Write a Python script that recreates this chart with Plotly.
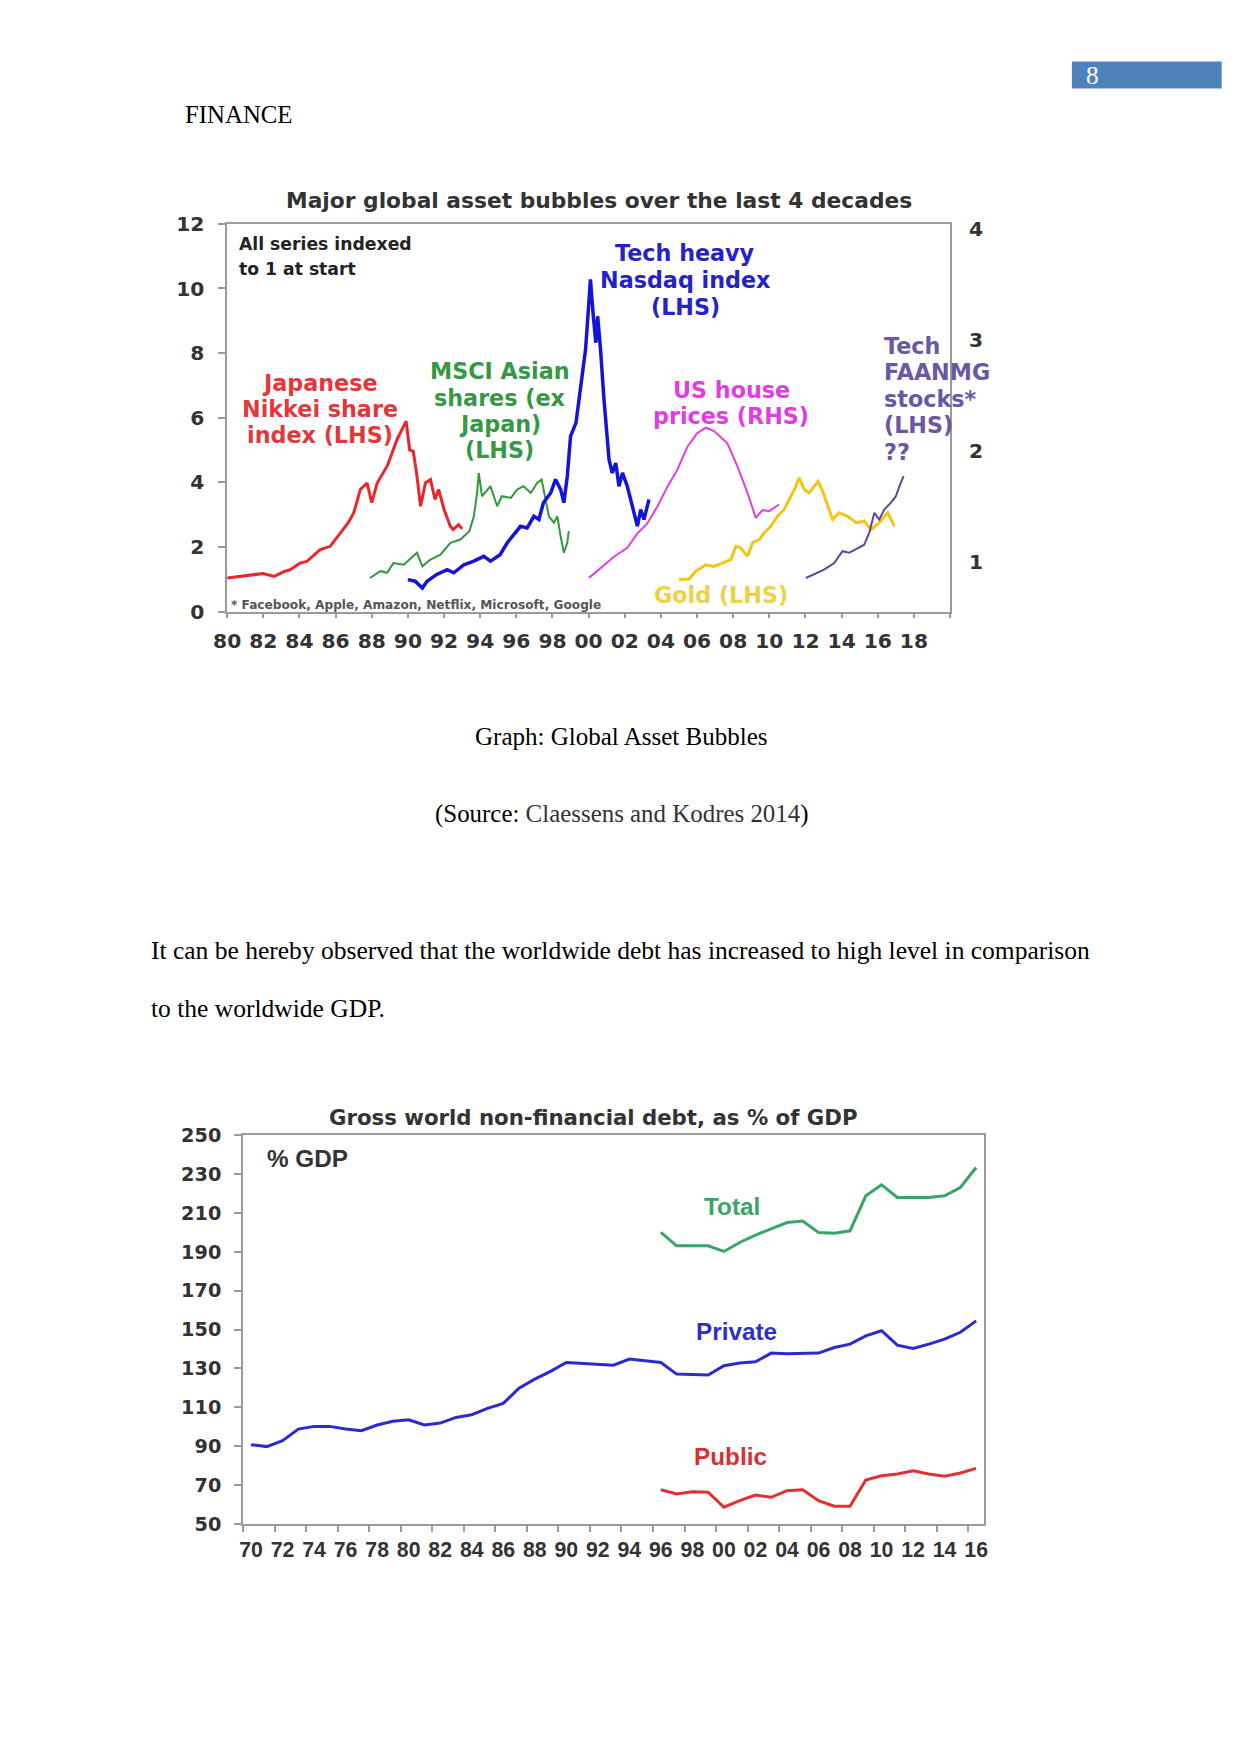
import plotly.graph_objects as go

# ---------------- DATA: chart 1 (Major global asset bubbles) ----------------
nikkei_years = [1980.0, 1980.6, 1981.5, 1982.0, 1982.6, 1983.2, 1983.5, 1984.04, 1984.4, 1984.8, 1985.15,
                1985.7, 1986.26, 1986.7, 1987.0, 1987.37, 1987.74, 1988.0, 1988.3, 1988.85, 1989.4,
                1989.9, 1990.1, 1990.3, 1990.5, 1990.7, 1990.97, 1991.25, 1991.5, 1991.7, 1992.0,
                1992.35, 1992.5, 1992.8, 1993.0]
nikkei_vals = [1.04, 1.08, 1.15, 1.18, 1.09, 1.25, 1.3, 1.5, 1.55, 1.75, 1.92,
               2.02, 2.44, 2.75, 3.05, 3.78, 3.98, 3.37, 3.98, 4.5, 5.33,
               5.89, 5.0, 4.96, 4.2, 3.26, 3.98, 4.09, 3.47, 3.78, 3.16,
               2.64, 2.54, 2.69, 2.56]

asia_years = [1987.9, 1988.48, 1988.85, 1989.2, 1989.77, 1990.3, 1990.5, 1990.8, 1991.25, 1991.8,
              1992.35, 1992.9, 1993.4, 1993.65, 1993.83, 1993.92, 1994.1, 1994.57, 1994.94, 1995.2,
              1995.7, 1996.05, 1996.4, 1996.8, 1997.15, 1997.4, 1997.6, 1997.8, 1998.08, 1998.27,
              1998.45, 1998.63, 1998.82, 1998.9]
asia_vals = [1.04, 1.25, 1.2, 1.5, 1.45, 1.71, 1.82, 1.4, 1.61, 1.76,
             2.13, 2.23, 2.49, 2.95, 3.67, 4.29, 3.57, 3.88, 3.26, 3.57,
             3.52, 3.78, 3.88, 3.67, 3.98, 4.09, 3.57, 2.95, 2.75, 2.95,
             2.33, 1.82, 2.13, 2.49]

nasdaq_years = [1990.0, 1990.4, 1990.8, 1991.06, 1991.6, 1992.17, 1992.54, 1993.1, 1993.65, 1994.2,
                1994.57, 1995.1, 1995.5, 1995.86, 1996.23, 1996.6, 1996.97, 1997.25, 1997.5, 1997.9,
                1998.17, 1998.45, 1998.63, 1998.82, 1999.0, 1999.3, 1999.56, 1999.83, 1999.96, 2000.1,
                2000.26, 2000.4, 2000.5, 2000.66, 2000.85, 2001.13, 2001.31, 2001.5, 2001.68, 2001.87,
                2002.14, 2002.42, 2002.7, 2002.88, 2003.06, 2003.34]
nasdaq_vals = [0.99, 0.94, 0.73, 0.94, 1.15, 1.3, 1.2, 1.45, 1.56, 1.71,
               1.56, 1.76, 2.13, 2.38, 2.64, 2.59, 2.95, 2.85, 3.37, 3.67,
               4.09, 3.78, 3.37, 4.19, 5.43, 5.84, 6.87, 8.11, 9.14, 10.28,
               9.14, 8.32, 9.14, 8.11, 6.56, 4.7, 4.29, 4.6, 3.88, 4.29,
               3.88, 3.26, 2.64, 3.16, 2.85, 3.47]

house_years = [2000.02, 2000.66, 2001.4, 2002.14, 2002.7, 2003.25, 2003.8, 2004.36, 2004.9, 2005.47,
               2006.0, 2006.48, 2006.94, 2007.68, 2008.24, 2008.8, 2009.25, 2009.62, 2009.99, 2010.54]
house_vals = [0.86, 0.95, 1.05, 1.13, 1.26, 1.35, 1.50, 1.68, 1.83, 2.04,
              2.16, 2.21, 2.18, 2.07, 1.86, 1.62, 1.40, 1.47, 1.46, 1.52]

gold_years = [2005.0, 2005.56, 2005.93, 2006.48, 2006.94, 2007.4, 2007.87, 2008.14, 2008.42, 2008.8,
              2009.07, 2009.44, 2009.72, 2010.08, 2010.45, 2010.82, 2011.19, 2011.47, 2011.65, 2011.93,
              2012.2, 2012.48, 2012.7, 2012.95, 2013.31, 2013.5, 2013.87, 2014.33, 2014.8, 2015.25,
              2015.63, 2016.08, 2016.55, 2016.92]
gold_vals = [0.99, 1.01, 1.25, 1.45, 1.4, 1.5, 1.61, 2.02, 1.97, 1.71,
             2.13, 2.23, 2.44, 2.64, 2.95, 3.16, 3.57, 3.88, 4.14, 3.78,
             3.67, 3.88, 4.03, 3.72, 3.16, 2.85, 3.06, 2.95, 2.75, 2.8,
             2.54, 2.75, 3.06, 2.64]

faang_years = [2012.02, 2012.48, 2013.03, 2013.59, 2014.05, 2014.42, 2014.89, 2015.25, 2015.53, 2015.81,
               2016.08, 2016.36, 2016.73, 2017.0, 2017.2, 2017.43]
faang_vals = [1.04, 1.15, 1.3, 1.5, 1.87, 1.82, 1.97, 2.07, 2.44, 3.06,
              2.85, 3.16, 3.37, 3.57, 3.88, 4.19]

c1_xticks = list(range(1980, 2021, 2))
c1_xlabels = ["80", "82", "84", "86", "88", "90", "92", "94", "96", "98", "00", "02", "04", "06",
              "08", "10", "12", "14", "16", "18", ""]
c1_yticks = [0, 2, 4, 6, 8, 10, 12]
c1_rticks = [1, 2, 3, 4]

# ---------------- DATA: chart 2 (Gross world non-financial debt) ----------------
private_years = list(range(1970, 2017))
private_vals = [90.8, 89.8, 92.8, 98.8, 100.2, 100.2, 98.8, 98.0, 100.9, 102.8,
                103.6, 100.9, 101.9, 104.8, 106.2, 109.5, 112.0, 119.8, 124.5, 128.5,
                133.1, 132.6, 132.3, 131.7, 134.8, 133.9, 133.1, 127.1, 126.8, 126.6,
                131.4, 132.8, 133.4, 137.9, 137.6, 137.9, 137.9, 140.8, 142.5, 146.8,
                149.4, 142.0, 140.3, 142.5, 145.1, 148.6, 154.5]
total_years = list(range(1996, 2017))
total_vals = [200.0, 193.1, 193.1, 193.1, 190.2, 194.8, 198.6, 202.0, 205.1, 205.9,
              200.0, 199.6, 200.8, 218.8, 224.5, 218.0, 218.0, 218.0, 218.8, 223.1, 233.4]
public_years = list(range(1996, 2017))
public_vals = [67.6, 65.4, 66.6, 66.3, 58.6, 62.0, 64.9, 63.7, 67.1, 67.6,
               62.0, 59.1, 59.1, 72.6, 74.8, 75.7, 77.4, 75.7, 74.5, 76.2, 78.6]

c2_xlabel_years = list(range(1970, 2017, 2))
c2_xlabels = ["%02d" % (y % 100) for y in c2_xlabel_years]
c2_boundary_ticks = [y - 0.5 for y in c2_xlabel_years]
c2_yticks = list(range(50, 251, 20))

# ---------------- LAYOUT ----------------
W, H = 1241, 1754
# the captured page is slightly offset/scaled relative to the figure; compensate
OX, OY, S = 11.5, 12.0, 0.987


def px(x):
    return ((x - OX) / S) / W


def py(y):
    return 1 - ((y - OY) / S) / H


def fs(size):
    return size / S


DV = "DejaVu Sans"
LS = "Liberation Sans, Arial"
SERIF = "Liberation Serif, Times New Roman"
AXC = "#9a9a9a"
TXT = "#333333"

fig = go.Figure()

# chart 1 series
fig.add_trace(go.Scatter(x=nikkei_years, y=nikkei_vals, mode="lines",
                         line=dict(color="#e8262b", width=3), xaxis="x", yaxis="y"))
fig.add_trace(go.Scatter(x=asia_years, y=asia_vals, mode="lines",
                         line=dict(color="#2f9a3a", width=2), xaxis="x", yaxis="y"))
fig.add_trace(go.Scatter(x=nasdaq_years, y=nasdaq_vals, mode="lines",
                         line=dict(color="#1414d8", width=3.5), xaxis="x", yaxis="y"))
fig.add_trace(go.Scatter(x=gold_years, y=gold_vals, mode="lines",
                         line=dict(color="#f4c416", width=3), xaxis="x", yaxis="y"))
fig.add_trace(go.Scatter(x=faang_years, y=faang_vals, mode="lines",
                         line=dict(color="#5a4896", width=2), xaxis="x", yaxis="y"))
fig.add_trace(go.Scatter(x=house_years, y=house_vals, mode="lines",
                         line=dict(color="#e040e0", width=2), xaxis="x", yaxis="y2"))

# chart 2 series
fig.add_trace(go.Scatter(x=total_years, y=total_vals, mode="lines",
                         line=dict(color="#3aa36a", width=3), xaxis="x2", yaxis="y3"))
fig.add_trace(go.Scatter(x=private_years, y=private_vals, mode="lines",
                         line=dict(color="#2a2ad0", width=3), xaxis="x2", yaxis="y3"))
fig.add_trace(go.Scatter(x=public_years, y=public_vals, mode="lines",
                         line=dict(color="#e03030", width=3), xaxis="x2", yaxis="y3"))

fig.update_layout(
    width=W, height=H, margin=dict(l=0, r=0, t=0, b=0), autosize=False,
    paper_bgcolor="white", plot_bgcolor="white", showlegend=False,
    xaxis=dict(domain=[px(225), px(949)], anchor="y", range=[1980, 2020],
               tickmode="array", tickvals=c1_xticks, ticktext=c1_xlabels,
               ticks="outside", ticklen=5, tickcolor=AXC, tickwidth=1.5,
               showline=True, linecolor=AXC, linewidth=1.5, mirror=True,
               showgrid=False, zeroline=False, ticklabelstandoff=5,
               tickfont=dict(family=DV, size=fs(20), color=TXT, weight="bold")),
    yaxis=dict(domain=[py(612), py(224)], anchor="x", range=[0, 12],
               tickmode="array", tickvals=c1_yticks,
               ticks="outside", ticklen=7, tickcolor=AXC, tickwidth=1.5,
               showline=True, linecolor=AXC, linewidth=1.5, mirror=True,
               showgrid=False, zeroline=False, ticklabelstandoff=10,
               tickfont=dict(family=DV, size=fs(20), color=TXT, weight="bold")),
    yaxis2=dict(overlaying="y", side="right", anchor="x", range=[0.557, 4.043],
                tickmode="array", tickvals=c1_rticks, ticks="",
                showline=False, showgrid=False, zeroline=False, ticklabelstandoff=18,
                tickfont=dict(family=DV, size=fs(20), color=TXT, weight="bold")),
    xaxis2=dict(domain=[px(241), px(983)], anchor="y3", range=[1969.5, 2016.5],
                tickmode="array", tickvals=c2_xlabel_years, ticktext=c2_xlabels, ticks="",
                minor=dict(tickmode="array", tickvals=c2_boundary_ticks, ticks="outside",
                           ticklen=6, tickcolor=AXC, tickwidth=1.5),
                showline=True, linecolor=AXC, linewidth=2, mirror=True,
                showgrid=False, zeroline=False, ticklabelstandoff=6,
                tickfont=dict(family=LS, size=fs(21), color=TXT, weight="bold")),
    yaxis3=dict(domain=[py(1525), py(1136)], anchor="x2", range=[50, 250],
                tickmode="array", tickvals=c2_yticks,
                ticks="outside", ticklen=7, tickcolor=AXC, tickwidth=1.5,
                showline=True, linecolor=AXC, linewidth=2, mirror=True,
                showgrid=False, zeroline=False, ticklabelstandoff=9,
                tickfont=dict(family=DV, size=fs(19), color=TXT, weight="bold")),
)


def note(text, x, y, size, color, family=DV, xanchor="center", bold=True):
    fig.add_annotation(text=("<b>%s</b>" % text) if bold else text,
                       x=px(x), y=py(y), xref="paper", yref="paper",
                       xanchor=xanchor, yanchor="middle", showarrow=False,
                       font=dict(family=family, size=fs(size), color=color))


def block(lines, x, ys, size, color, family=DV, xanchor="center"):
    for line, yy in zip(lines, ys):
        note(line, x, yy, size, color, family, xanchor)


# page header
fig.add_shape(type="rect", xref="paper", yref="paper",
              x0=px(1071), x1=px(1221), y0=py(88.5), y1=py(61.5),
              fillcolor="#4f81bd", line=dict(width=0), layer="below")
note("8", 1092, 75, 25, "white", SERIF, bold=False)
note("FINANCE", 181, 115, 24.5, "black", SERIF, xanchor="left", bold=False)

# chart 1 texts
note("Major global asset bubbles over the last 4 decades", 597, 201, 21.5, TXT)
block(["All series indexed", "to 1 at start"], 235, [244, 269], 17, "#222222", xanchor="left")
block(["Tech heavy", "Nasdaq index", "(LHS)"], 684, [253, 280, 307], 22, "#2323c8")
block(["Japanese", "Nikkei share", "index (LHS)"], 318, [383, 409, 435], 22, "#e2383c")
block(["MSCI Asian", "shares (ex", "Japan)", "(LHS)"], 498, [371, 398, 424, 450], 22, "#359844")
block(["US house", "prices (RHS)"], 730, [390, 416], 22, "#e03ee0")
block(["Tech", "FAANMG", "stocks*", "(LHS)", "??"], 881, [346, 372, 399, 425, 452], 22,
      "#6a58a6", xanchor="left")
note("Gold (LHS)", 720, 595, 22, "#ead24a")
note("* Facebook, Apple, Amazon, Netflix, Microsoft, Google", 227, 605, 12, "#555555", xanchor="left")

# captions and paragraph
note("Graph: Global Asset Bubbles", 620, 737, 24.7, "black", SERIF, bold=False)
note("(Source: <span style='color:#333333'>Claessens and Kodres 2014</span>)", 620, 815, 24.6, "black",
     SERIF, bold=False)
note("It can be hereby observed that the worldwide debt has increased to high level in comparison",
     147, 951, 25.2, "black", SERIF, xanchor="left", bold=False)
note("to the worldwide GDP.", 147, 1009, 25.2, "black", SERIF, xanchor="left", bold=False)

# chart 2 texts
note("Gross world non-financial debt, as % of GDP", 592, 1118, 21, TXT)
note("% GDP", 263, 1159, 24, TXT, LS, xanchor="left")
note("Total", 731, 1207, 24, "#3aa36a", LS)
note("Private", 735, 1332, 24, "#3030c0", LS)
note("Public", 729, 1457, 24, "#d83030", LS)

fig.write_html("out.html", config={"displayModeBar": False},
               post_script="document.body.style.margin='0';document.body.style.overflow='hidden';")
